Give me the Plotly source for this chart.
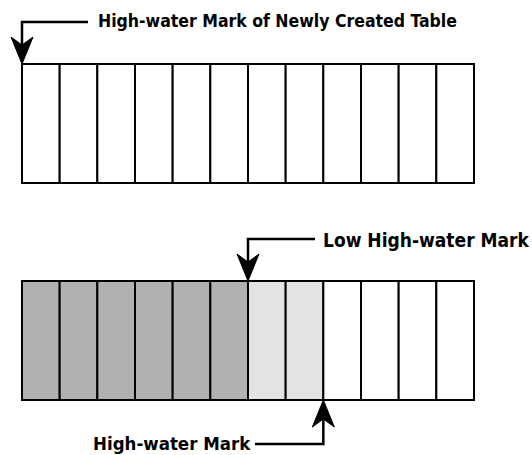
import plotly.graph_objects as go

# ---- data ----
n_cells = 12
top_states = ["empty"] * 12
bottom_states = ["used"] * 6 + ["freed"] * 2 + ["empty"] * 4
state_colors = {"used": "#b1b1b1", "freed": "#e3e3e3", "empty": "#ffffff"}

label_top = "High-water Mark of Newly Created Table"
label_low = "Low High-water Mark"
label_hwm = "High-water Mark"
low_hwm_index = 6      # boundary index of low high-water mark
hwm_index = 8          # boundary index of high-water mark

# ---- layout geometry (pixel-like coordinates) ----
W, H = 532, 455
x0, x1 = 22, 474
cw = (x1 - x0) / n_cells
tables = [(64, 183, top_states), (281, 400, bottom_states)]

fig = go.Figure()

for (ytop, ybot, states) in tables:
    for s in state_colors:
        xs = [x0 + (i + 0.5) * cw for i, st in enumerate(states) if st == s]
        if not xs:
            continue
        fig.add_trace(go.Bar(
            x=xs, y=[ybot - ytop] * len(xs), base=[ytop] * len(xs),
            width=cw, marker=dict(color=state_colors[s], line=dict(color="black", width=2)),
            hoverinfo="skip", showlegend=False))

LINE = dict(color="black", width=2.5)

def arrow_head(tx, ty, direction):
    # direction +1: pointing down (tip at bottom), -1: pointing up
    d = direction
    xs = [tx, tx - 11, tx, tx + 11, tx]
    ys = [ty, ty - d * 27, ty - d * 19, ty - d * 27, ty]
    fig.add_trace(go.Scatter(x=xs, y=ys, mode="lines", fill="toself",
                             fillcolor="black", line=dict(color="black", width=1),
                             hoverinfo="skip", showlegend=False))

def path(xs, ys):
    fig.add_trace(go.Scatter(x=xs, y=ys, mode="lines", line=LINE,
                             hoverinfo="skip", showlegend=False))

# top arrow: high-water mark of new table at boundary 0
tx = x0
path([88, tx, tx], [22, 22, 50])
arrow_head(tx, 64, 1)

# low high-water mark arrow
tx = x0 + low_hwm_index * cw
path([315, tx, tx], [239, 239, 265])
arrow_head(tx, 281, 1)

# high-water mark arrow (from below)
tx = x0 + hwm_index * cw
path([255, tx, tx], [444, 444, 415])
arrow_head(tx, 400, -1)

FAM = "DejaVu Sans Condensed, Liberation Sans"
fig.add_annotation(x=96, y=21, text="<b>%s</b>" % label_top, showarrow=False,
                   xanchor="left", yanchor="middle",
                   font=dict(family=FAM, size=17.5, color="black"))
fig.add_annotation(x=321, y=240, text="<b>%s</b>" % label_low, showarrow=False,
                   xanchor="left", yanchor="middle",
                   font=dict(family=FAM, size=19, color="black"))
fig.add_annotation(x=253, y=443, text="<b>%s</b>" % label_hwm, showarrow=False,
                   xanchor="right", yanchor="middle",
                   font=dict(family=FAM, size=18.5, color="black"))

fig.update_layout(
    width=W, height=H, margin=dict(l=0, r=0, t=0, b=0),
    paper_bgcolor="white", plot_bgcolor="white", barmode="overlay",
    xaxis=dict(range=[0, W], visible=False, fixedrange=True),
    yaxis=dict(range=[H, 0], visible=False, fixedrange=True),
)

fig.write_html("out.html", config={"displayModeBar": False},
               post_script="document.body.style.margin='0';")
